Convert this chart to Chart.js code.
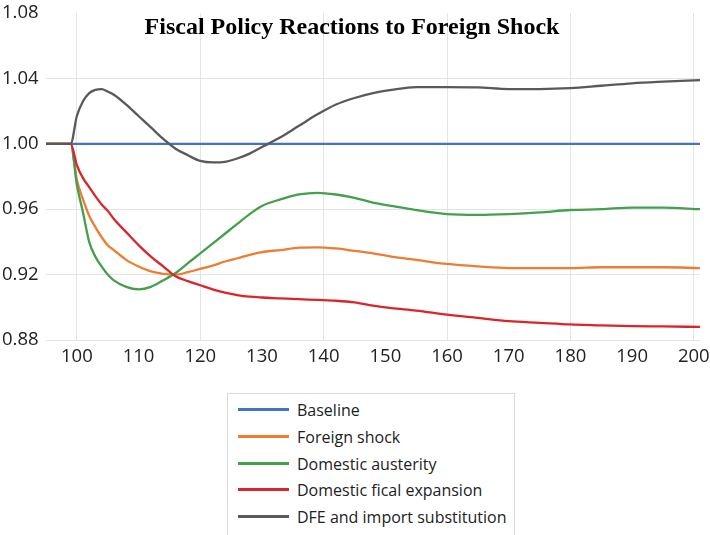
<!DOCTYPE html>
<html>
<head>
<meta charset="utf-8">
<script src="https://cdn.jsdelivr.net/npm/chart.js@4"></script>
<style>
  body { margin: 0; background: #fff; }
  #wrap { position: relative; width: 710px; height: 535px; overflow: hidden; }
  #chartBox { position: absolute; left: 0; top: 0; width: 710px; height: 372px; }
  #legend {
    position: absolute; left: 227px; top: 393px; width: 288px; height: 160px;
    border: 1px solid #d9d9d9; box-sizing: border-box;
    font-family: "Open Sans", sans-serif; font-size: 16px; color: #222;
  }
  .item { position: absolute; left: 0; height: 20px; line-height: 20px; white-space: nowrap; }
  .item .swatch { position: absolute; left: 10px; top: 8px; width: 51px; height: 3px; }
  .item .txt { position: absolute; left: 69px; top: 0; }
</style>
</head>
<body>
<div id="wrap">
  <div id="chartBox"><canvas id="chart"></canvas></div>
  <div id="legend"></div>
</div>
<script>
// periods
const periods = [95, 99, 100, 101, 102, 103, 104, 105, 106, 108, 110, 112, 114, 116, 118, 120,
  122, 124, 126, 128, 130, 133, 136, 139, 142, 145, 148, 151, 155, 160, 165, 170, 175, 180,
  185, 190, 195, 201];

const baseline = periods.map(() => 1.0);

const foreignShock = [1, 1, 0.978, 0.966, 0.956, 0.949, 0.943, 0.938, 0.935, 0.929, 0.925, 0.922,
  0.9205, 0.920, 0.9215, 0.9235, 0.9255, 0.928, 0.930, 0.932, 0.9338, 0.935, 0.9365, 0.9367,
  0.936, 0.9345, 0.933, 0.931, 0.929, 0.9265, 0.925, 0.924, 0.924, 0.924, 0.9245, 0.9245,
  0.9245, 0.924];

const austerity = [1, 1, 0.975, 0.958, 0.940, 0.931, 0.925, 0.920, 0.9165, 0.9125, 0.911, 0.9125,
  0.9165, 0.921, 0.927, 0.933, 0.939, 0.945, 0.951, 0.957, 0.962, 0.966, 0.969, 0.970, 0.969,
  0.967, 0.964, 0.962, 0.9595, 0.957, 0.9565, 0.957, 0.958, 0.9595, 0.960, 0.961, 0.961, 0.960];

const expansion = [1, 1, 0.987, 0.979, 0.9735, 0.968, 0.963, 0.959, 0.954, 0.946, 0.938, 0.931,
  0.925, 0.919, 0.916, 0.9135, 0.911, 0.909, 0.9075, 0.9065, 0.906, 0.9055, 0.905, 0.9045,
  0.904, 0.903, 0.901, 0.8995, 0.898, 0.8955, 0.8935, 0.8915, 0.8905, 0.8895, 0.889, 0.8885,
  0.8883, 0.888];

const dfeImport = [1, 1, 1.017, 1.026, 1.031, 1.033, 1.0335, 1.032, 1.030, 1.024, 1.017, 1.010,
  1.003, 0.997, 0.993, 0.9895, 0.9886, 0.989, 0.991, 0.994, 0.998, 1.004, 1.011, 1.018, 1.024,
  1.028, 1.031, 1.033, 1.0347, 1.0347, 1.0345, 1.0335, 1.0335, 1.034, 1.0355, 1.037, 1.038, 1.039];

const seriesNames = ["Baseline", "Foreign shock", "Domestic austerity", "Domestic fical expansion", "DFE and import substitution"];
const seriesColors = ["#4472c4", "#ed7d31", "#44a04c", "#d9252b", "#595959"];
const seriesValues = [baseline, foreignShock, austerity, expansion, dfeImport];

const xTicks = [100, 110, 120, 130, 140, 150, 160, 170, 180, 190, 200];
const yTicks = [0.88, 0.92, 0.96, 1.00, 1.04, 1.08];

const chartTitle = "Fiscal Policy Reactions to Foreign Shock";

const datasets = seriesValues.map((vals, i) => ({
  label: seriesNames[i],
  data: periods.map((p, j) => ({ x: p, y: vals[j] })),
  borderColor: seriesColors[i],
  backgroundColor: seriesColors[i],
  borderWidth: 2.3,
  pointRadius: 0,
  cubicInterpolationMode: "monotone",
  order: seriesValues.length - i
}));

// title drawn over the plot area, like the original
const titlePlugin = {
  id: "overTitle",
  afterDraw(chart) {
    const ctx = chart.ctx;
    ctx.save();
    ctx.font = "bold 24px 'Liberation Serif', 'Times New Roman', serif";
    ctx.fillStyle = "#000";
    ctx.textAlign = "center";
    ctx.textBaseline = "alphabetic";
    ctx.fillText(chartTitle, 352, 34);
    ctx.restore();
  }
};

const tickFont = { family: "'Open Sans', sans-serif", size: 18.5 };

new Chart(document.getElementById("chart"), {
  type: "line",
  data: { datasets },
  plugins: [titlePlugin],
  options: {
    responsive: true,
    maintainAspectRatio: false,
    animation: false,
    layout: { padding: { left: 2, right: 10, top: 13, bottom: 0 } },
    plugins: { legend: { display: false }, tooltip: { enabled: false } },
    scales: {
      x: {
        type: "linear",
        min: 95,
        max: 201,
        afterBuildTicks: (scale) => { scale.ticks = xTicks.map(v => ({ value: v })); },
        afterFit: (scale) => {
          scale.height = 32;
          scale.paddingLeft = 0;
          scale.paddingRight = 0;
        },
        ticks: { font: tickFont, color: "#222", padding: 6, maxRotation: 0, autoSkip: false },
        grid: {
          color: (c) => (c.tick && c.tick.value % 20 === 0) ? "#e4e4e4" : "rgba(0,0,0,0)",
          drawTicks: false
        },
        border: { display: false }
      },
      y: {
        min: 0.88,
        max: 1.08,
        afterBuildTicks: (scale) => { scale.ticks = yTicks.map(v => ({ value: v })); },
        afterFit: (scale) => {
          scale.width = 44;
          scale.paddingTop = 0;
          scale.paddingBottom = 0;
        },
        ticks: {
          font: tickFont, color: "#222", padding: 4, crossAlign: "far",
          callback: (v) => v.toFixed(2)
        },
        grid: {
          color: (c) => (c.tick && c.tick.value > 1.07) ? "rgba(0,0,0,0)" : "#e4e4e4",
          drawTicks: false
        },
        border: { display: false }
      }
    }
  }
});

// legend, one entry per row
const legend = document.getElementById("legend");
seriesNames.forEach((name, i) => {
  const row = document.createElement("div");
  row.className = "item";
  row.style.top = (6 + i * 26.8) + "px";
  row.innerHTML = `<span class="swatch" style="background:${seriesColors[i]}"></span><span class="txt">${name}</span>`;
  legend.appendChild(row);
});
</script>
</body>
</html>
